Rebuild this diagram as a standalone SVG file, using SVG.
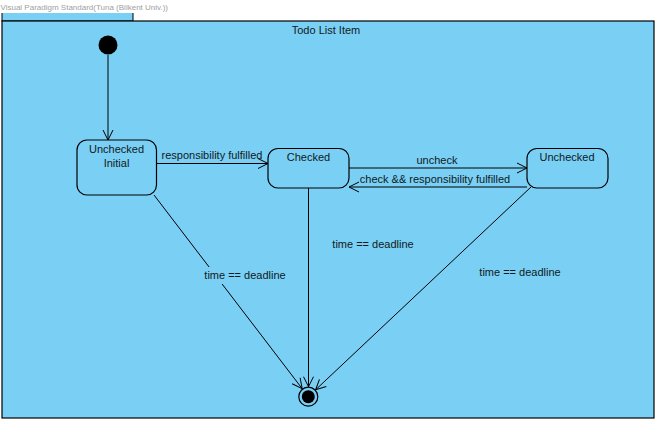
<svg xmlns="http://www.w3.org/2000/svg" width="657" height="423" viewBox="0 0 657 423">
<style>
text{font-family:"Liberation Sans",Arial,sans-serif;font-size:11px;fill:#111a22}
.st{fill:#7ACFF5;stroke:#000;stroke-width:1.2}
.ln{fill:none;stroke:#000;stroke-width:1}
.mid{text-anchor:middle}
</style>
<defs>
<marker id="arr" markerUnits="userSpaceOnUse" markerWidth="12" markerHeight="12" viewBox="0 0 12 12" refX="11" refY="6" orient="auto">
<path d="M1,1 L11,6 L1,11" fill="none" stroke="#000" stroke-width="1"/>
</marker>
</defs>
<rect width="657" height="423" fill="#fff"/>
<g id="frame">
<rect x="2" y="0.5" width="131" height="20.5" fill="#7ACFF5" stroke="#000" stroke-width="1"/>
<rect x="0" y="0" width="172" height="13" fill="#fff"/>
<text x="0.5" y="10" style="font-size:8px;fill:#a0a0a0">Visual Paradigm Standard(Tuna (Bilkent Univ.))</text>
<rect x="2" y="21" width="652" height="397" fill="#7ACFF5" stroke="#000" stroke-width="1.2"/>
<text class="mid" x="326" y="34">Todo List Item</text>
</g>
<g id="connectors">
<line class="ln" x1="108" y1="55" x2="108" y2="140" marker-end="url(#arr)"/>
<line class="ln" x1="156.5" y1="163.5" x2="268" y2="163.5" marker-end="url(#arr)"/>
<line class="ln" x1="349" y1="168" x2="527" y2="168" marker-end="url(#arr)"/>
<line class="ln" x1="527" y1="187" x2="349" y2="187" marker-end="url(#arr)"/>
<line class="ln" x1="154" y1="195" x2="302.2" y2="388.7" marker-end="url(#arr)"/>
<line class="ln" x1="308.5" y1="188" x2="308.5" y2="386.7" marker-end="url(#arr)"/>
<line class="ln" x1="531" y1="187" x2="315.6" y2="389.8" marker-end="url(#arr)"/>
<text class="mid" x="212" y="159">responsibility fulfilled</text>
<text class="mid" x="437" y="164">uncheck</text>
<text class="mid" x="435" y="183">check &amp;&amp; responsibility fulfilled</text>
<rect x="203" y="267" width="86" height="17" fill="#7ACFF5"/>
<text class="mid" x="245" y="279">time == deadline</text>
<text class="mid" x="373" y="248">time == deadline</text>
<text class="mid" x="520" y="276">time == deadline</text>
</g>
<g id="initial">
<circle cx="108" cy="45" r="9.5" fill="#000"/>
</g>
<g id="unchecked-initial">
<rect class="st" x="77" y="140" width="79.5" height="55" rx="10"/>
<text class="mid" x="116.5" y="153">Unchecked</text>
<text class="mid" x="116.5" y="167">Initial</text>
</g>
<g id="checked">
<rect class="st" x="268" y="148.5" width="81" height="39.5" rx="10"/>
<text class="mid" x="308.5" y="161">Checked</text>
</g>
<g id="unchecked">
<rect class="st" x="527" y="148.5" width="81" height="39.5" rx="10"/>
<text class="mid" x="567" y="161">Unchecked</text>
</g>
<g id="final">
<circle cx="308.3" cy="396.7" r="9.5" fill="none" stroke="#000" stroke-width="1.2"/>
<circle cx="308.3" cy="396.7" r="6.5" fill="#000"/>
</g>
</svg>
